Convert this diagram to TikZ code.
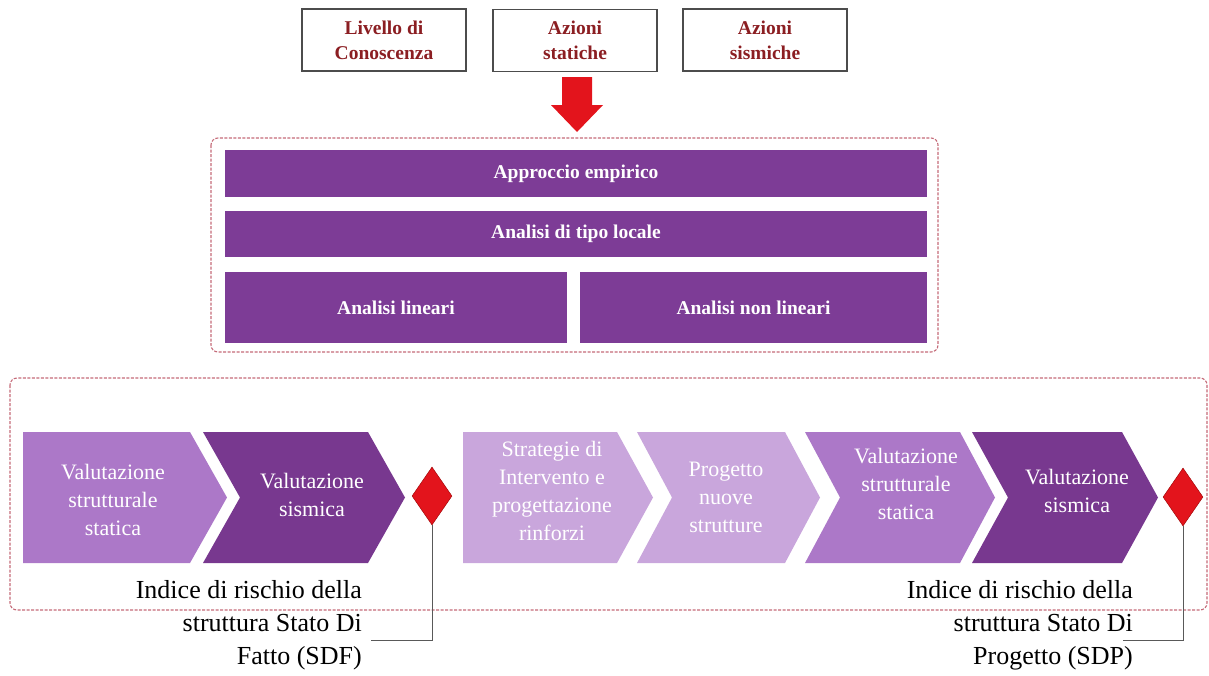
\documentclass[tikz,border=0pt]{standalone}
\usepackage{fontspec}
\setmainfont{Liberation Serif}
\usetikzlibrary{shapes.geometric, positioning, calc}

\definecolor{viola}{HTML}{7D3C96}
\definecolor{violascuro}{HTML}{78388F}
\definecolor{violamedio}{HTML}{AC78C8}
\definecolor{lilla}{HTML}{C9A6DC}
\definecolor{rossoscuro}{HTML}{8B1E22}
\definecolor{rossovivo}{HTML}{E3141C}
\definecolor{tratteggio}{HTML}{C46A78}

\tikzset{
    box/.style={draw=black!70, line width=1.2pt, minimum width=164pt, minimum height=62pt,
        align=center, text=rossoscuro, font=\fontsize{19.5}{25}\selectfont\bfseries},
    barra/.style={fill=viola, minimum height=47pt, inner sep=0pt, text=white,
        font=\fontsize{19.5}{23}\selectfont\bfseries},
    cornice/.style={draw=tratteggio, line width=1.1pt, dash pattern=on 3pt off 1.5pt,
        rounded corners=7pt},
    testo/.style={text=white, align=center, font=\fontsize{22}{28}\selectfont},
    indice/.style={anchor=north east, align=right, inner sep=0pt,
        font=\fontsize{26}{33}\selectfont},
    rombo/.style={diamond, fill=rossovivo, draw=red!60!black, line width=0.4pt,
        minimum width=40pt, minimum height=58pt, inner sep=0pt},
}

\begin{document}
\begin{tikzpicture}[x=1pt, y=-1pt]
\useasboundingbox (0,0) rectangle (1209,675);

% --- dati di ingresso ---
\node[box] (livello) at (384,40) {Livello di\\Conoscenza};
\node[box] (statiche) at (575,40.5) {Azioni\\statiche};
\node[box] (sismiche) at (765,40) {Azioni\\sismiche};

% freccia rossa
\fill[rossovivo] (562,77) -- (592,77) -- (592,105) -- (603,105) -- (577,132)
    -- (551,105) -- (562,105) -- cycle;

% --- metodi di analisi ---
\draw[cornice] (211,138) rectangle (938,352);
\node[barra, minimum width=702pt] (empirico) at (576,173.5) {Approccio empirico};
\node[barra, minimum width=702pt, minimum height=46pt] (locale) at (576,234) {Analisi di tipo locale};
\node[barra, minimum width=342pt, minimum height=71pt] (lineari) at (396,307.5) {Analisi lineari};
\node[barra, minimum width=347pt, minimum height=71pt] (nonlineari) at (753.5,307.5) {Analisi non lineari};

% --- percorso di valutazione ---
\draw[cornice] (10,378) rectangle (1207,610);

% Stato di fatto
\fill[violamedio] (23,432) -- (190,432) -- (227,497.5) -- (190,563) -- (23,563) -- cycle;
\fill[violascuro] (203,432) -- (368,432) -- (405,497.5) -- (368,563) -- (203,563)
    -- (240,497.5) -- cycle;
\node[testo] (statica1) at (113,500) {Valutazione\\strutturale\\statica};
\node[testo] (sismica1) at (312,495) {Valutazione\\sismica};

% Stato di progetto
\fill[lilla] (463,432) -- (617,432) -- (653,497.5) -- (617,563) -- (463,563) -- cycle;
\fill[lilla] (637,432) -- (785,432) -- (820,497.5) -- (785,563) -- (637,563)
    -- (672,497.5) -- cycle;
\fill[violamedio] (805,432) -- (960,432) -- (995,497.5) -- (960,563) -- (805,563)
    -- (840,497.5) -- cycle;
\fill[violascuro] (972,432) -- (1122,432) -- (1158,497.5) -- (1122,563) -- (972,563)
    -- (1008,497.5) -- cycle;
\node[testo] (strategie) at (552,491) {Strategie di\\Intervento e\\progettazione\\rinforzi};
\node[testo] (progetto) at (726,497) {Progetto\\nuove\\strutture};
\node[testo] (statica2) at (906,484) {Valutazione\\strutturale\\statica};
\node[testo] (sismica2) at (1077,491) {Valutazione\\sismica};

% indici di rischio
\node[rombo] (sdf) at (432,496) {};
\node[rombo] (sdp) at (1183,497) {};

\node[indice] (indiceSDF) at (362,580) {Indice di rischio della\\struttura Stato Di\\Fatto (SDF)};
\node[indice] (indiceSDP) at (1133,580) {Indice di rischio della\\struttura Stato Di\\Progetto (SDP)};

\coordinate (fineSDF) at (371,640);
\coordinate (fineSDP) at (1123,640);
\draw[black!65, line width=0.8pt] (sdf.south) |- (fineSDF);
\draw[black!65, line width=0.8pt] (sdp.south) |- (fineSDP);

\end{tikzpicture}
\end{document}
